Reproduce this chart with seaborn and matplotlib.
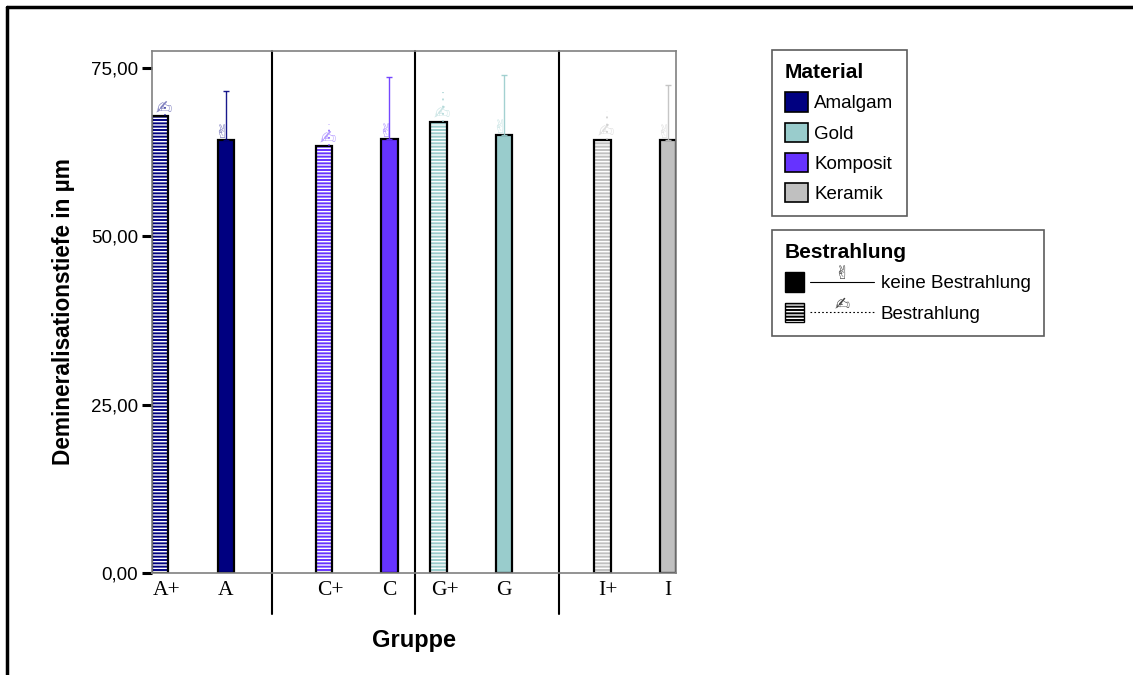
import matplotlib
matplotlib.use("Agg")
import matplotlib.pyplot as plt
import matplotlib.transforms as mtransforms
import pandas as pd
import seaborn as sns
from matplotlib.patches import Patch, Rectangle
from matplotlib.lines import Line2D
from matplotlib.text import Text
from matplotlib.ticker import FuncFormatter

# --- Werte ---
gruppe = ['A+', 'A', 'C+', 'C', 'G+', 'G', 'I+', 'I']
material = ['Amalgam', 'Amalgam', 'Komposit', 'Komposit', 'Gold', 'Gold', 'Keramik', 'Keramik']
bestrahlung = ['Bestrahlung', 'keine Bestrahlung'] * 4
tiefe_mittel = [67.8, 64.3, 63.4, 64.5, 67.0, 65.1, 64.3, 64.3]
tiefe_oben = [69.9, 71.5, 66.7, 73.7, 71.4, 74.0, 68.6, 72.4]

material_order = ['Amalgam', 'Gold', 'Komposit', 'Keramik']
material_farben = ['#000080', '#99cccc', '#6633ff', '#c0c0c0']

# Trennlinien zwischen den Material-Bloecken (Datenkoordinaten)
trenner_pos = [1.33, 3.515, 5.714]

df = pd.DataFrame({'Gruppe': gruppe, 'Material': material,
                   'Bestrahlung': bestrahlung, 'Tiefe': tiefe_mittel,
                   'Oben': tiefe_oben})

sns.set_style("ticks")
plt.rcParams['font.family'] = ['Liberation Sans', 'DejaVu Sans']
plt.rcParams['hatch.linewidth'] = 1.0
for k in ['text.color', 'axes.labelcolor', 'xtick.color', 'ytick.color',
          'xtick.labelcolor', 'ytick.labelcolor']:
    plt.rcParams[k] = 'black'

fig = plt.figure(figsize=(11.33, 6.75), dpi=100)
ax = fig.add_axes([152 / 1133, 1 - 573 / 675, 524 / 1133, 522 / 675])

sns.barplot(data=df, x='Gruppe', y='Tiefe', hue='Material', order=gruppe,
            hue_order=material_order, palette=material_farben, dodge=True,
            width=1.0, gap=0, saturation=1, errorbar=None, edgecolor='black',
            linewidth=1.6, legend=False, ax=ax)

farbe_von = dict(zip(material_order, material_farben))
tick_x = [0.0] * len(gruppe)
for p in list(ax.patches):
    h = p.get_height()
    if not h or h != h:
        continue
    cx = p.get_x() + p.get_width() / 2
    i = int(round(cx))
    tick_x[i] = cx
    row = df.iloc[i]
    c = farbe_von[row['Material']]
    if row['Bestrahlung'] == 'Bestrahlung':
        p.set_hatch('-----')
        p.set_edgecolor('white')
        p.set_linewidth(0)
        ax.add_patch(Rectangle(p.get_xy(), p.get_width(), h, fill=False,
                               edgecolor='black', linewidth=1.6, zorder=p.get_zorder() + 0.1))
        ex = cx + 0.075
        ax.vlines(ex, h, row['Oben'], colors=c, linestyles=(0, (1, 3)), linewidth=1.3, alpha=0.7)
        ax.text(ex - 0.02, h - 0.3, '\u270d', ha='center', va='bottom', fontsize=14,
                color=c, alpha=0.5, family='DejaVu Sans')
    else:
        ax.errorbar(cx, h, yerr=[[0], [row['Oben'] - h]], fmt='none', ecolor=c,
                    elinewidth=1.0, capsize=2.5, capthick=1.0, alpha=0.9)
        ax.text(cx - 0.06, h - 0.3, '\u270c', ha='center', va='bottom', fontsize=13,
                color=c, alpha=0.5, family='DejaVu Sans')

for x in trenner_pos:
    ax.axvline(x, ymin=-0.079, ymax=1, color='black', linewidth=1.5, clip_on=False)

ax.set_xlim(-0.5, 7.5)
ax.set_ylim(0, 77.5)
ax.set_yticks([0, 25, 50, 75])
ax.yaxis.set_major_formatter(FuncFormatter(lambda v, _: f'{v:.2f}'.replace('.', ',')))
ax.set_xticks(tick_x, gruppe)
ax.tick_params(axis='y', length=7, width=2.2, color='black', labelsize=13.5, pad=3)
ax.tick_params(axis='x', length=0, labelsize=15.5, pad=5.5, labelfontfamily='Liberation Serif')
# SPSS setzt den Buchstaben mittig, das "+" haengt rechts an
for lab in ax.get_xticklabels():
    if lab.get_text().endswith('+'):
        lab.set_transform(lab.get_transform() + mtransforms.ScaledTranslation(6 / 100, 0, fig.dpi_scale_trans))
for s in ax.spines.values():
    s.set_color('#808080')
    s.set_linewidth(1.2)

ax.set_xlabel('Gruppe', fontsize=17, fontweight='bold')
ax.xaxis.set_label_coords(0.5, -0.107)
ax.set_ylabel('Demineralisationstiefe in \u00b5m', fontsize=16.3, fontweight='bold')
ax.yaxis.set_label_coords(-0.147, 0.5)

# --- Legenden ---
mat_handles = [Patch(facecolor=c, edgecolor='black', linewidth=1.2) for c in material_farben]
leg1 = fig.legend(mat_handles, material_order, title='Material', loc='upper left',
                  bbox_to_anchor=(772 / 1133, 1 - 50 / 675), fontsize=13.5,
                  title_fontproperties={'weight': 'bold', 'size': 15},
                  alignment='left', frameon=True, fancybox=False, borderpad=0.7,
                  handlelength=1.2, handleheight=1.2, labelspacing=0.55,
                  handletextpad=0.35, borderaxespad=0)
leg1.get_frame().set_edgecolor('#333333')
leg1.get_frame().set_linewidth(1.2)


class BestrahlungKey:
    def __init__(self, hatch, ls, glyph):
        self.hatch, self.ls, self.glyph = hatch, ls, glyph


class BestrahlungHandler:
    def legend_artist(self, legend, orig_handle, fontsize, handlebox):
        x0, y0 = -handlebox.xdescent, -handlebox.ydescent
        w, h = handlebox.width, handlebox.height
        sq = Rectangle((x0, y0), h, h, facecolor='black',
                       edgecolor='white' if orig_handle.hatch else 'black',
                       hatch=orig_handle.hatch, linewidth=0)
        handlebox.add_artist(sq)
        handlebox.add_artist(Rectangle((x0, y0), h, h, fill=False, edgecolor='black', linewidth=1))
        handlebox.add_artist(Line2D([x0 + h + 4, x0 + w], [y0 + h / 2] * 2,
                                    color='black', linewidth=0.8, linestyle=orig_handle.ls))
        handlebox.add_artist(Text(x0 + h + 4 + (w - h - 4) / 2, y0 + h / 2 - 1, orig_handle.glyph,
                                  ha='center', va='bottom', fontsize=13, color='#444444',
                                  family='DejaVu Sans'))
        return sq


keys = [BestrahlungKey(None, '-', '\u270c'), BestrahlungKey('-----', (0, (1.5, 2)), '\u270d')]
leg2 = fig.legend(keys, ['keine Bestrahlung', 'Bestrahlung'], title='Bestrahlung',
                  loc='upper left', bbox_to_anchor=(772 / 1133, 1 - 230 / 675),
                  handler_map={BestrahlungKey: BestrahlungHandler()}, fontsize=13.5,
                  title_fontproperties={'weight': 'bold', 'size': 15},
                  alignment='left', frameon=True, fancybox=False, borderpad=0.7,
                  handlelength=4.75, handleheight=1.2, labelspacing=0.55,
                  handletextpad=0.35, borderaxespad=0)
leg2.get_frame().set_edgecolor('#333333')
leg2.get_frame().set_linewidth(1.2)

# Rahmen um das Diagramm
fig.add_artist(Line2D([7 / 1133, 1], [1 - 7 / 675] * 2, color='black', linewidth=2.5))
fig.add_artist(Line2D([7 / 1133] * 2, [0, 1 - 7 / 675], color='black', linewidth=2.5))

fig.savefig('out.png', dpi=100)
